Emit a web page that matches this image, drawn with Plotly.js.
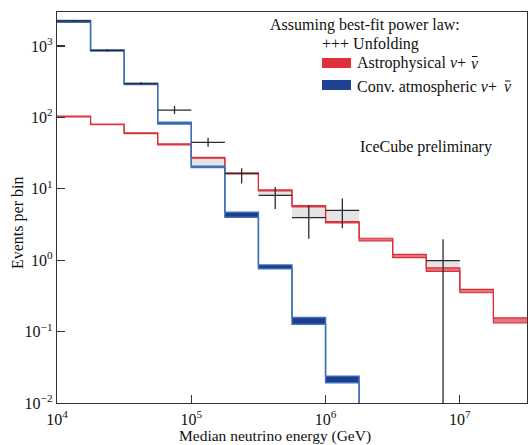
<!DOCTYPE html>
<html>
<head>
<meta charset="utf-8">
<script src="https://cdn.plot.ly/plotly-3.0.1.min.js"></script>
<style>html,body{margin:0;padding:0;background:#fff;}#chart{width:528px;height:445px;}</style>
</head>
<body>
<div id="chart"></div>
<script>
// Bin edges (GeV), quarter-decade bins
const edges = [1e4, 1.778e4, 3.162e4, 5.623e4, 1e5, 1.778e5, 3.162e5, 5.623e5, 1e6, 1.778e6, 3.162e6, 5.623e6, 1e7, 1.778e7, 3.162e7];

// Astrophysical nu + nubar (band low / high)
const astroLo = [101.5, 79, 59.2, 41.4, 26.8, 16.3, 9.35, 5.6, 3.33, 1.87, 1.09, 0.70, 0.35, 0.132];
const astroHi = [104.5, 81, 60.8, 42.6, 27.6, 16.7, 9.65, 5.8, 3.47, 2.03, 1.21, 0.78, 0.39, 0.156];

// Conventional atmospheric nu + nubar (band low / high)
const atmoLo = [2160, 850, 290, 81, 19.8, 4.0, 0.76, 0.127, 0.0192, 0.0025];
const atmoHi = [2280, 880, 302, 85.5, 20.8, 4.7, 0.86, 0.158, 0.0238, 0.003];

// Unfolding points
const unfoldBin = [0, 1, 2, 3, 4, 5, 6, 7, 8, 11];
const unfoldVal = [2250, 870, 298, 127, 44.7, 16.3, 8.1, 3.96, 5.0, 0.99];
const unfoldLo  = [2200, 840, 285, 112, 38.8, 11.9, 5.2, 2.0, 2.8, 0.001];
const unfoldHi  = [2300, 900, 312, 145, 51.9, 19.4, 10.6, 5.9, 7.3, 1.97];

// Grey difference boxes
const greyBin = [4, 6, 7, 8, 11];
const greyLo  = [20.3, 8.1, 3.96, 3.4, 0.74];
const greyHi  = [27.2, 9.5, 5.7, 5.0, 0.99];

// Tick labels
const xTickVals = [1e4, 1e5, 1e6, 1e7];
const xTickText = ['10<sup>4</sup>', '10<sup>5</sup>', '10<sup>6</sup>', '10<sup>7</sup>'];
const yTickVals = [1e-2, 1e-1, 1, 10, 100, 1000];
const yTickText = ['10<sup>\u22122</sup>', '10<sup>\u22121</sup>', '10<sup>0</sup>', '10<sup>1</sup>', '10<sup>2</sup>', '10<sup>3</sup>'];

const FONT = '"Liberation Serif", "Times New Roman", serif';
const RED_LINE = '#d6303c', RED_FILL = 'rgba(226,70,80,0.75)';
const BLUE_LINE = '#3f70b8', BLUE_FILL = '#1c3d92';

function stepXY(vals) {
  const x = edges.slice(0, vals.length + 1);
  const y = vals.concat([vals[vals.length - 1]]);
  return {x, y};
}

const traces = [];

// grey boxes
greyBin.forEach((b, k) => {
  const l = edges[b], r = edges[b + 1];
  traces.push({
    x: [l, r, r, l, l], y: [greyLo[k], greyLo[k], greyHi[k], greyHi[k], greyLo[k]],
    mode: 'lines', fill: 'toself', fillcolor: '#e4e4e4', line: {width: 0},
    hoverinfo: 'skip', showlegend: false
  });
});

// astrophysical band
let s = stepXY(astroLo);
traces.push({x: s.x, y: s.y, mode: 'lines', line: {shape: 'hv', color: RED_LINE, width: 1.2}, showlegend: false, name: 'Astrophysical'});
s = stepXY(astroHi);
traces.push({x: s.x, y: s.y, mode: 'lines', line: {shape: 'hv', color: RED_LINE, width: 1.2}, fill: 'tonexty', fillcolor: RED_FILL, showlegend: false, name: 'Astrophysical'});

// atmospheric band
s = stepXY(atmoLo);
traces.push({x: s.x, y: s.y, mode: 'lines', line: {shape: 'hv', color: BLUE_LINE, width: 1.4}, showlegend: false, name: 'Conv. atmospheric'});
s = stepXY(atmoHi);
traces.push({x: s.x, y: s.y, mode: 'lines', line: {shape: 'hv', color: BLUE_LINE, width: 1.4}, fill: 'tonexty', fillcolor: BLUE_FILL, showlegend: false, name: 'Conv. atmospheric'});

// unfolding crosses
const ux = unfoldBin.map(b => Math.sqrt(edges[b] * edges[b + 1]));
traces.push({
  x: ux, y: unfoldVal, mode: 'markers', marker: {size: 1, color: '#222'},
  error_x: {type: 'data', symmetric: false,
    array: unfoldBin.map((b, i) => edges[b + 1] - ux[i]),
    arrayminus: unfoldBin.map((b, i) => ux[i] - edges[b]),
    width: 0, thickness: 1.3, color: '#2a2a2a'},
  error_y: {type: 'data', symmetric: false,
    array: unfoldVal.map((v, i) => unfoldHi[i] - v),
    arrayminus: unfoldVal.map((v, i) => v - unfoldLo[i]),
    width: 0, thickness: 1.3, color: '#2a2a2a'},
  showlegend: false, name: 'Unfolding'
});

// helpers for pixel -> paper
const L = 57, R = 527, T = 12, B = 403;
const px = v => (v - L) / (R - L);
const py = v => (B - v) / (B - T);

const annFont = {family: FONT, size: 16, color: '#111'};
const ann = (x, y, text, xanchor) => ({xref: 'paper', yref: 'paper', x: px(x), y: py(y), xanchor: xanchor || 'left', yanchor: 'middle', showarrow: false, text: text, font: annFont});

const layout = {
  width: 528, height: 445,
  margin: {l: L, r: 528 - R, t: T, b: 445 - B},
  paper_bgcolor: '#fff', plot_bgcolor: '#fff',
  font: {family: FONT, size: 16, color: '#111'},
  showlegend: false,
  xaxis: {
    type: 'log', range: [4, 7.5], showgrid: false, zeroline: false,
    tickmode: 'array', tickvals: xTickVals, ticktext: xTickText,
    ticks: 'inside', ticklen: 8, tickwidth: 1.2, tickcolor: '#333',
    ticklabelstandoff: 1,
    showline: true, linecolor: '#333', linewidth: 1.3, mirror: true,
    tickfont: {family: FONT, size: 16, color: '#111'}
  },
  yaxis: {
    type: 'log', range: [-2, 3.477], showgrid: false, zeroline: false,
    tickmode: 'array', tickvals: yTickVals, ticktext: yTickText,
    ticks: 'inside', ticklen: 8, tickwidth: 1.2, tickcolor: '#333',
    showline: true, linecolor: '#333', linewidth: 1.3, mirror: true,
    tickfont: {family: FONT, size: 16, color: '#111'}
  },
  shapes: [
    {type: 'rect', xref: 'paper', yref: 'paper', x0: px(322), x1: px(351), y0: py(68), y1: py(58), fillcolor: '#e0303c', line: {width: 0}},
    {type: 'rect', xref: 'paper', yref: 'paper', x0: px(322), x1: px(351), y0: py(90), y1: py(80), fillcolor: '#1f4296', line: {width: 0}},
    {type: 'line', xref: 'paper', yref: 'paper', x0: px(472), x1: px(477.5), y0: py(56.5), y1: py(56.5), line: {color: '#111', width: 1}},
    {type: 'line', xref: 'paper', yref: 'paper', x0: px(505), x1: px(510.5), y0: py(81), y1: py(81), line: {color: '#111', width: 1}}
  ],
  annotations: [
    ann(268, 25, 'Assuming best-fit power law:'),
    ann(320, 44, '+++ Unfolding'),
    ann(355, 63, 'Astrophysical <i>\u03bd</i>+'),
    ann(474.5, 63, '<i>\u03bd</i>', 'center'),
    ann(355, 87, 'Conv. atmospheric <i>\u03bd</i>+'),
    ann(507.5, 87, '<i>\u03bd</i>', 'center'),
    ann(358, 147, 'IceCube preliminary'),
    {xref: 'paper', yref: 'paper', x: px(275), y: py(435.5), xanchor: 'center', yanchor: 'middle', showarrow: false, text: 'Median neutrino energy (GeV)', font: {family: FONT, size: 15.5, color: '#111'}},
    {xref: 'paper', yref: 'paper', x: px(18), y: py(223), xanchor: 'center', yanchor: 'middle', showarrow: false, textangle: -90, text: 'Events per bin', font: annFont}
  ]
};

Plotly.newPlot('chart', traces, layout, {displayModeBar: false, staticPlot: true});
</script>
</body>
</html>
